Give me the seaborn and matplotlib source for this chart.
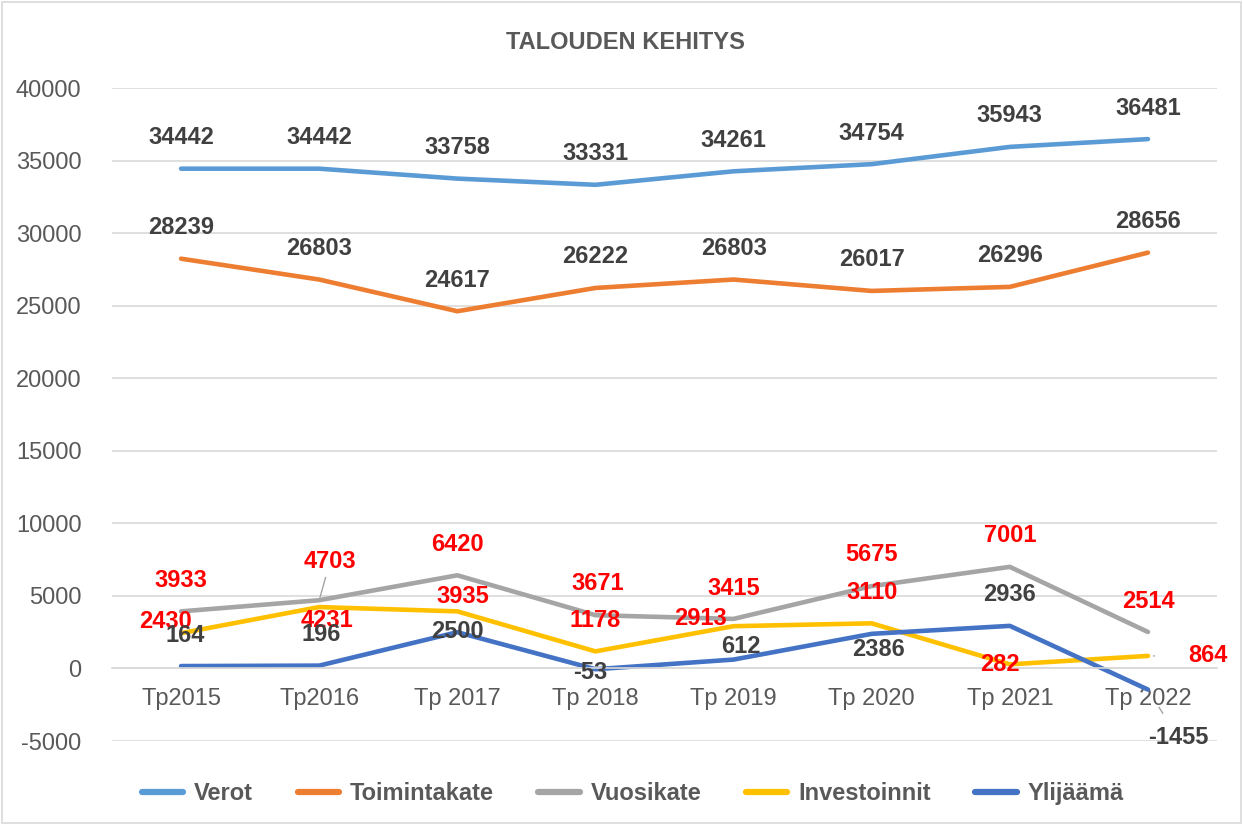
import matplotlib
matplotlib.use("Agg")
import matplotlib.pyplot as plt
import seaborn as sns
import pandas as pd
from matplotlib.lines import Line2D

# ---- data ----
categories = ["Tp2015", "Tp2016", "Tp 2017", "Tp 2018", "Tp 2019", "Tp 2020", "Tp 2021", "Tp 2022"]
verot = [34442, 34442, 33758, 33331, 34261, 34754, 35943, 36481]
toimintakate = [28239, 26803, 24617, 26222, 26803, 26017, 26296, 28656]
vuosikate = [3933, 4703, 6420, 3671, 3415, 5675, 7001, 2514]
investoinnit = [2430, 4231, 3935, 1178, 2913, 3110, 282, 864]
ylijaama = [164, 196, 2500, -53, 612, 2386, 2936, -1455]
series_names = ["Verot", "Toimintakate", "Vuosikate", "Investoinnit", "Ylijäämä"]
y_ticks = list(range(-5000, 40001, 5000))
title = "TALOUDEN KEHITYS"

# ---- styling ----
colors = {"Verot": "#5B9BD5", "Toimintakate": "#ED7D31", "Vuosikate": "#A5A5A5",
          "Investoinnit": "#FFC000", "Ylijäämä": "#4472C4"}
label_colors = {"Verot": "#404040", "Toimintakate": "#404040", "Vuosikate": "#FF0000",
                "Investoinnit": "#FF0000", "Ylijäämä": "#404040"}
# label offsets in pixels (dx, dy) per point
up = [(0, 31)] * 8
offsets = {
    "Verot": up,
    "Toimintakate": up,
    "Vuosikate": [(0, 31), (11, 39), (0, 31), (2, 32), (0, 30), (0, 32), (0, 31), (0, 30)],
    "Investoinnit": [(-16, 12), (8, -13), (5, 15), (0, 31), (-33, 8), (0, 31), (-10, 0), (60, 0)],
    "Ylijäämä": [(4, 31), (2, 31), (0, 1), (-5, -3), (7, 13), (7, -16), (0, 31), (30, -48)],
}
leaders = {("Vuosikate", 1): (1, 2), ("Investoinnit", 7): (22, 4), ("Ylijäämä", 7): (8, 15)}

sns.set_theme(style="white")
plt.rcParams["font.family"] = ["Liberation Sans", "DejaVu Sans"]

data = {"Verot": verot, "Toimintakate": toimintakate, "Vuosikate": vuosikate,
        "Investoinnit": investoinnit, "Ylijäämä": ylijaama}
df = pd.DataFrame([
    {"Vuosi": c, "Sarja": s, "Arvo": v}
    for s in series_names for c, v in zip(categories, data[s])
])

fig = plt.figure(figsize=(12.43, 8.25), dpi=100)
ax = fig.add_axes([0.0901, 0.1018, 0.8890, 0.7915])

sns.lineplot(data=df, x="Vuosi", y="Arvo", hue="Sarja", hue_order=series_names,
             palette=colors, sort=False, linewidth=3.3, legend=False, ax=ax)

ax.set_xlim(-0.5, len(categories) - 0.5)
ax.set_ylim(-5000, 40000)
ax.set_yticks(y_ticks)
ax.set_yticklabels([str(t) for t in y_ticks])
ax.set_xticks(range(len(categories)))
ax.set_xticklabels(categories)
ax.set_xlabel("")
ax.set_ylabel("")
ax.grid(axis="y", color="#D9D9D9", linewidth=1.2)
ax.set_axisbelow(True)
for sp in ["top", "right", "left"]:
    ax.spines[sp].set_visible(False)
ax.spines["bottom"].set_position(("data", 0))
ax.spines["bottom"].set_color("#D9D9D9")
ax.spines["bottom"].set_linewidth(1.2)
ax.tick_params(axis="both", length=0, labelsize=17, labelcolor="#595959")
ax.tick_params(axis="x", pad=14)
ax.tick_params(axis="y", pad=22)

for s in series_names:
    for i, v in enumerate(data[s]):
        dx, dy = offsets[s][i]
        kw = {}
        if (s, i) in leaders:
            sa, sb = leaders[(s, i)]
            kw["arrowprops"] = dict(arrowstyle="-", color="#A5A5A5", lw=1.0,
                                    shrinkA=sa, shrinkB=sb)
        ax.annotate(str(v), xy=(i, v), xytext=(dx, dy), textcoords="offset pixels",
                    ha="center", va="center", fontsize=17, fontweight="bold",
                    color=label_colors[s], zorder=5, **kw)

fig.text(0.503, 0.949, title, ha="center", va="center", fontsize=17,
         fontweight="bold", color="#595959")

handles = [Line2D([0], [0], color=colors[s], lw=4.5) for s in series_names]
leg = fig.legend(handles, series_names, loc="center", bbox_to_anchor=(0.509, 0.038),
                 ncol=5, frameon=False, handlelength=1.75, handletextpad=0.45,
                 columnspacing=1.9, prop={"size": 17, "weight": "bold"})
for t in leg.get_texts():
    t.set_color("#595959")

fig.patches.append(plt.Rectangle((0.002, 0.002), 0.996, 0.996, transform=fig.transFigure,
                                 fill=False, edgecolor="#D9D9D9", linewidth=1.2))
fig.savefig("out.png", dpi=100, facecolor="white")
